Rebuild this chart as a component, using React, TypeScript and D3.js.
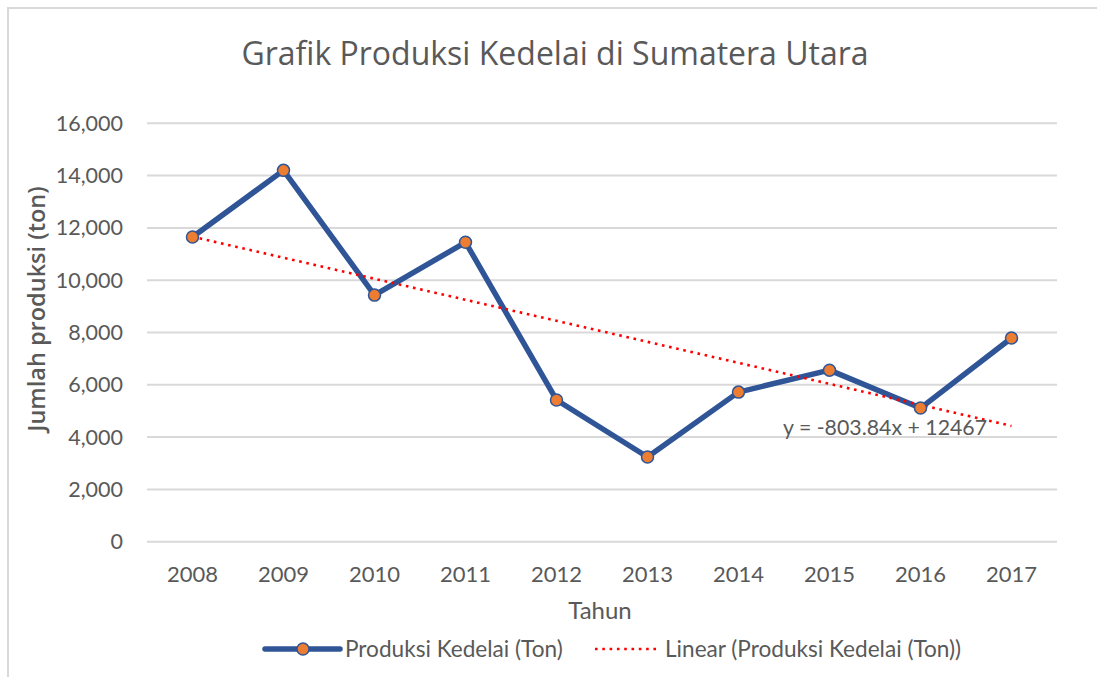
import React from "react";
import * as d3 from "d3";

// data
const years = ["2008", "2009", "2010", "2011", "2012", "2013", "2014", "2015", "2016", "2017"];
const produksi = [11650, 14200, 9430, 11450, 5420, 3240, 5720, 6560, 5110, 7790];
const yTicks = [0, 2000, 4000, 6000, 8000, 10000, 12000, 14000, 16000];
const trendSlope = -803.84;
const trendIntercept = 12467;

const W = 1097, H = 677;
const font = "Lato, 'Open Sans', sans-serif";
const grey = "#595959";
const blue = "#2F5597";
const orange = "#ED7D31";

export default function App() {
  const x = d3.scaleBand().domain(years).range([147, 1057]).padding(0);
  const y = d3.scaleLinear().domain([0, 16000]).range([541.7, 123.3]);
  const cx = (yr) => (x(yr) as number) + x.bandwidth() / 2;

  const pts = years.map((yr, i) => [cx(yr), y(produksi[i])] as [number, number]);
  const line = d3.line();
  const trend = years.map((yr, i) => [cx(yr), y(trendSlope * (i + 1) + trendIntercept)] as [number, number]);
  const fmt = d3.format(",");

  return (
    <svg width={W} height={H} style={{ position: "absolute", left: 0, top: 0, background: "#fff" }}>
      <rect x={8} y={8} width={W + 10} height={H + 10} fill="#fff" stroke="#d9d9d9" strokeWidth={2} />
      <text x={555} y={65} textAnchor="middle" fontFamily="'Open Sans', sans-serif" fontSize={32} fill={grey}>
        Grafik Produksi Kedelai di Sumatera Utara
      </text>

      {yTicks.map((t) => (
        <g key={t}>
          <line x1={147} x2={1057} y1={y(t)} y2={y(t)} stroke="#d9d9d9" strokeWidth={2} />
          <text x={123} y={y(t) + 7.5} textAnchor="end" fontFamily={font} fontSize={21.5} fill={grey}>
            {fmt(t)}
          </text>
        </g>
      ))}

      {years.map((yr) => (
        <text key={yr} x={cx(yr)} y={582} textAnchor="middle" fontFamily={font} fontSize={22} fill={grey}>
          {yr}
        </text>
      ))}

      <text x={600} y={619} textAnchor="middle" fontFamily={font} fontSize={24} fill={grey}>Tahun</text>
      <text transform="translate(45,309) rotate(-90)" textAnchor="middle" fontFamily="'Open Sans', sans-serif" fontSize={23.5} fontWeight={600} fill={grey}>
        Jumlah produksi (ton)
      </text>

      <path d={line(pts) as string} fill="none" stroke={blue} strokeWidth={5.5} strokeLinejoin="round" />
      <path d={line(trend) as string} fill="none" stroke="#ff0000" strokeWidth={2.6} strokeDasharray="2.6 4.7" />
      {pts.map((p, i) => (
        <circle key={i} cx={p[0]} cy={p[1]} r={6} fill={orange} stroke={blue} strokeWidth={1.5} />
      ))}

      <text x={783} y={435} fontFamily={font} fontSize={21.3} fill={grey}>y = -803.84x + 12467</text>

      <g>
        <line x1={265} x2={340} y1={649} y2={649} stroke={blue} strokeWidth={5.5} strokeLinecap="round" />
        <circle cx={303} cy={649} r={6} fill={orange} stroke={blue} strokeWidth={1.5} />
        <text x={345} y={657} fontFamily={font} fontSize={22.6} fill={grey}>Produksi Kedelai (Ton)</text>
        <line x1={595} x2={657} y1={649} y2={649} stroke="#ff0000" strokeWidth={2.6} strokeDasharray="2.6 4.7" />
        <text x={665} y={657} fontFamily={font} fontSize={22.6} fill={grey}>Linear (Produksi Kedelai (Ton))</text>
      </g>
    </svg>
  );
}
